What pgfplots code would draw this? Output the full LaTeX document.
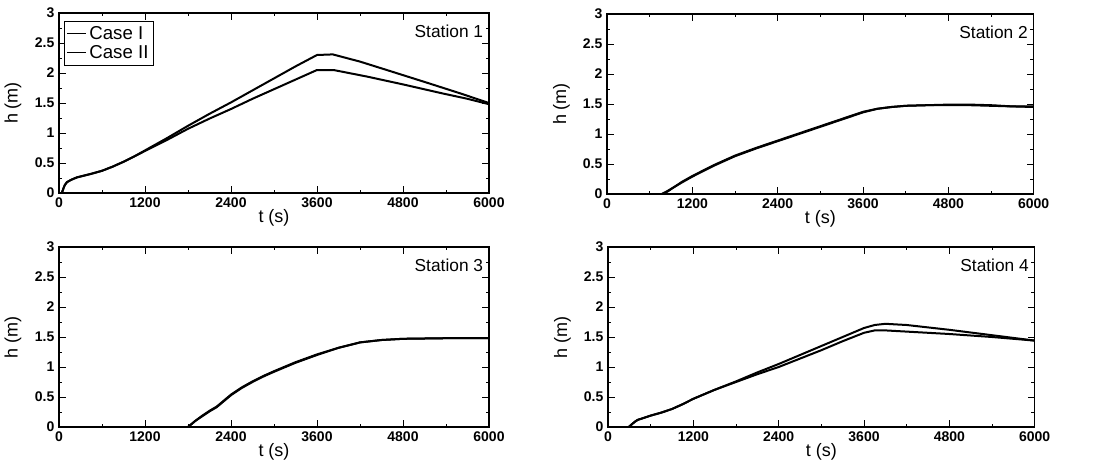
\documentclass[border=0pt]{standalone}
\usepackage{fontspec}
\setmainfont{Liberation Sans}
\usepackage{pgfplots}
\pgfplotsset{compat=1.18}

\tikzset{stlabel/.style={anchor=north east, font=\fontsize{13}{15}\selectfont, inner sep=1pt}}
\pgfplotsset{
  panel/.style={
    scale only axis,
    height=135pt,
    xmin=0, xmax=6000, ymin=0, ymax=3,
    xtick={0,1200,2400,3600,4800,6000},
    minor x tick num=1,
    ytick={0,0.5,1,1.5,2,2.5,3},
    minor y tick num=1,
    scaled x ticks=false,
    /pgf/number format/assume math mode=true,
    /pgf/number format/set thousands separator={},
    tick label style={font=\fontsize{10.5}{12}\selectfont\bfseries},
    major tick length=5pt,
    minor tick length=2.5pt,
    tick style={black, line width=0.7pt},
    axis line style={black, line width=0.8pt},
    xlabel={t (s)},
    ylabel={h (m)},
    label style={font=\fontsize{13.5}{15}\selectfont},
    xlabel style={at={(axis description cs:0.5,-0.14)}, anchor=center},
    ylabel style={at={(axis description cs:-0.107,0.5)}, anchor=center},
    cycle list={{black, no markers}},
    every axis plot post/.append style={line width=1.5pt, line join=round},
    clip=true,
  },
}

\begin{document}
\begin{tikzpicture}
\useasboundingbox (0,0) rectangle (821.25pt,354pt);

% ---------------- Station 1 ----------------
\begin{axis}[panel, width=322.5pt, at={(44.25pt,209.25pt)}, anchor=south west,
  legend style={at={(rel axis cs:0.012,0.955)}, anchor=north west,
    draw=black, line width=0.6pt, font=\fontsize{14}{16}\selectfont,
    inner sep=1.5pt, row sep=-1pt, fill=white},
  legend cell align=left,
  legend image code/.code={\draw[black, line width=1.1pt] (0pt,0pt) -- (14pt,0pt);}]
\addplot coordinates {
(0,0) (40,0) (60,0.07) (80,0.13) (110,0.18) (170,0.22) (250,0.26) (350,0.29)
(450,0.32) (600,0.37) (750,0.44) (900,0.52) (1050,0.61) (1200,0.71) (1350,0.81)
(1500,0.91) (1800,1.12) (2100,1.32) (2400,1.51) (2700,1.71) (3000,1.91)
(3300,2.11) (3600,2.30) (3820,2.31) (4200,2.19) (4600,2.04) (5130,1.84)
(5600,1.66) (6000,1.50)};
\addlegendentry{Case I}
\addplot coordinates {
(0,0) (40,0) (60,0.07) (80,0.13) (110,0.18) (170,0.22) (250,0.26) (350,0.29)
(450,0.32) (600,0.37) (750,0.44) (900,0.52) (1050,0.61) (1200,0.70) (1350,0.79)
(1500,0.88) (1800,1.07) (2100,1.24) (2400,1.40) (2700,1.57) (3000,1.73)
(3300,1.89) (3600,2.05) (3830,2.05) (4300,1.94) (4800,1.81) (5350,1.66)
(5700,1.57) (6000,1.48)};
\addlegendentry{Case II}
\node[stlabel] at (rel axis cs:0.99,0.94) {Station 1};
\end{axis}

% ---------------- Station 2 ----------------
\begin{axis}[panel, width=320pt, at={(455.25pt,208.5pt)}, anchor=south west]
\addplot coordinates {
(0,0) (780,0) (850,0.04) (950,0.12) (1050,0.19) (1200,0.29) (1500,0.47)
(1800,0.63) (2100,0.76) (2400,0.88) (2700,1.00) (3000,1.12) (3300,1.24)
(3600,1.36) (3800,1.42) (4000,1.45) (4200,1.47) (4500,1.48) (4800,1.49)
(5100,1.49) (5400,1.48) (5700,1.46) (6000,1.46)};
\addplot coordinates {
(0,0) (770,0) (850,0.05) (950,0.12) (1050,0.20) (1200,0.30) (1500,0.48)
(1800,0.64) (2100,0.77) (2400,0.89) (2700,1.01) (3000,1.13) (3300,1.25)
(3600,1.37) (3800,1.42) (4000,1.45) (4200,1.47) (4500,1.48) (4800,1.48)
(5100,1.48) (5400,1.47) (5700,1.46) (6000,1.45)};
\node[stlabel] at (rel axis cs:0.99,0.94) {Station 2};
\end{axis}

% ---------------- Station 3 ----------------
\begin{axis}[panel, width=322.5pt, at={(44.25pt,33.75pt)}, anchor=south west]
\addplot coordinates {
(0,0) (1800,0) (1850,0.05) (1900,0.10) (2000,0.18) (2100,0.26) (2200,0.33)
(2300,0.43) (2400,0.53) (2550,0.65) (2700,0.75) (2850,0.84) (3000,0.92)
(3300,1.07) (3600,1.20) (3900,1.32) (4200,1.41) (4500,1.45) (4800,1.47)
(5400,1.48) (6000,1.48)};
\addplot coordinates {
(0,0) (1800,0) (1850,0.05) (1900,0.10) (2000,0.19) (2100,0.27) (2200,0.34)
(2300,0.44) (2400,0.54) (2550,0.66) (2700,0.76) (2850,0.85) (3000,0.93)
(3300,1.08) (3600,1.21) (3900,1.32) (4200,1.41) (4500,1.45) (4800,1.47)
(5400,1.48) (6000,1.48)};
\node[stlabel] at (rel axis cs:0.99,0.94) {Station 3};
\end{axis}

% ---------------- Station 4 ----------------
\begin{axis}[panel, width=320pt, at={(456pt,33.75pt)}, anchor=south west]
\addplot coordinates {
(0,0) (290,0) (330,0.04) (380,0.09) (420,0.12) (500,0.15) (600,0.19)
(750,0.24) (900,0.30) (1050,0.38) (1200,0.47) (1500,0.62) (1800,0.76)
(2100,0.91) (2400,1.05) (2700,1.20) (3000,1.35) (3300,1.50) (3600,1.65)
(3750,1.70) (3900,1.72) (4200,1.70) (4800,1.62) (5400,1.53) (6000,1.44)};
\addplot coordinates {
(0,0) (290,0) (330,0.04) (380,0.09) (420,0.12) (500,0.15) (600,0.19)
(750,0.24) (900,0.30) (1050,0.38) (1200,0.47) (1500,0.62) (1800,0.75)
(2100,0.88) (2400,1.00) (2700,1.14) (3000,1.28) (3300,1.43) (3600,1.57)
(3750,1.61) (3900,1.61) (4200,1.59) (4800,1.55) (5400,1.50) (6000,1.44)};
\node[stlabel] at (rel axis cs:0.99,0.94) {Station 4};
\end{axis}
\end{tikzpicture}
\end{document}
